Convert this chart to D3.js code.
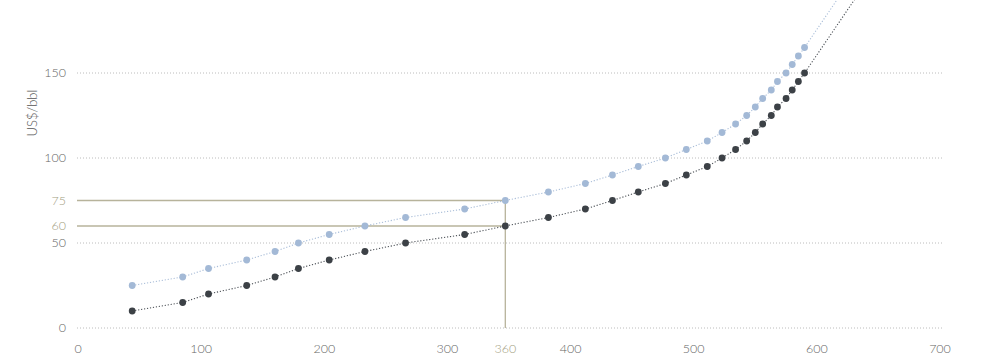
<!DOCTYPE html>
<html>
<head>
<meta charset="utf-8">
<script src="https://cdn.jsdelivr.net/npm/d3@7"></script>
<style>
  html, body { margin: 0; padding: 0; background: #fff; }
  svg { display: block; font-family: Lato, "Open Sans", sans-serif; }
</style>
</head>
<body>
<svg id="chart" width="990" height="360"></svg>
<script>
// Cumulative volume (x) shared by both series
const volume = [44, 85, 106, 137, 160, 179, 204, 233, 266, 314, 347, 382, 412, 434, 455, 477, 494, 511, 523, 534, 543, 550, 556, 563, 568, 575, 580, 585, 590, 637];
// Lower (dark) cost curve, US$/bbl
const darkCost = [10, 15, 20, 25, 30, 35, 40, 45, 50, 55, 60, 65, 70, 75, 80, 85, 90, 95, 100, 105, 110, 115, 120, 125, 130, 135, 140, 145, 150, 200];
// Upper (light) cost curve, US$/bbl
const lightCost = [25, 30, 35, 40, 45, 50, 55, 60, 65, 70, 75, 80, 85, 90, 95, 100, 105, 110, 115, 120, 125, 130, 135, 140, 145, 150, 155, 160, 165, 215];
// Number of plotted markers (last point is off-chart, line only)
const markerCount = 29;

const xTicks = [0, 100, 200, 300, 400, 500, 600, 700];
const yTicks = [0, 50, 100, 150];
const refPrices = [60, 75];
const refIndex = 10;          // data point where the reference lines meet
const refLabel = "360";

const svg = d3.select("#chart");
const x = d3.scaleLinear().domain([0, 700]).range([78, 940]);
const y = d3.scaleLinear().domain([0, 150]).range([328, 73]);

const gridColor = "#bcbcbc";
const refColor = "#b7b39b";
const refText = "#a39e80";
const tickText = "#666666";

// Gridlines
svg.append("g").selectAll("line").data(yTicks).join("line")
  .attr("x1", 77).attr("x2", 942)
  .attr("y1", d => y(d)).attr("y2", d => y(d))
  .attr("stroke", gridColor).attr("stroke-width", 1)
  .attr("stroke-dasharray", "1,2");

// Y tick labels
svg.append("g").selectAll("text").data(yTicks).join("text")
  .attr("x", 66).attr("y", d => y(d)).attr("dy", "0.35em")
  .attr("text-anchor", "end").attr("font-size", 12.5).attr("font-weight", 300)
  .attr("fill", tickText).text(d => d);

// X tick labels
svg.append("g").selectAll("text").data(xTicks).join("text")
  .attr("x", d => x(d)).attr("y", 353)
  .attr("text-anchor", "middle").attr("font-size", 12.5).attr("font-weight", 300)
  .attr("fill", tickText).text(d => d);

// Y axis title
svg.append("text")
  .attr("transform", `translate(37,113) rotate(-90)`)
  .attr("text-anchor", "middle").attr("font-size", 13).attr("font-weight", 300)
  .attr("fill", "#555").text("US$/bbl");

// Reference lines
const refX = x(volume[refIndex]);
svg.append("g").selectAll("line").data(refPrices).join("line")
  .attr("x1", 77).attr("x2", refX)
  .attr("y1", d => y(d)).attr("y2", d => y(d))
  .attr("stroke", refColor).attr("stroke-width", 1.3);
svg.append("line")
  .attr("x1", refX).attr("x2", refX)
  .attr("y1", y(d3.max(refPrices))).attr("y2", y(0))
  .attr("stroke", refColor).attr("stroke-width", 1.3);
svg.append("g").selectAll("text").data(refPrices).join("text")
  .attr("x", 66).attr("y", d => y(d)).attr("dy", "0.35em")
  .attr("text-anchor", "end").attr("font-size", 12.5).attr("font-weight", 300)
  .attr("fill", refText).text(d => d);
svg.append("text")
  .attr("x", refX).attr("y", 353).attr("text-anchor", "middle")
  .attr("font-size", 12.5).attr("font-weight", 300)
  .attr("fill", refText).text(refLabel);

// Series
const series = [
  { values: lightCost, line: "#a9bdd8", dot: "#a3b9d6" },
  { values: darkCost, line: "#4a4f55", dot: "#3c4146" }
];
const line = d3.line().x(d => x(d[0])).y(d => y(d[1]));

series.forEach(s => {
  const pts = volume.map((v, i) => [v, s.values[i]]);
  svg.append("path").datum(pts)
    .attr("d", line).attr("fill", "none")
    .attr("stroke", s.line).attr("stroke-width", 1.1)
    .attr("stroke-dasharray", "1.2,1.8");
  svg.append("g").selectAll("circle").data(pts.slice(0, markerCount)).join("circle")
    .attr("cx", d => x(d[0])).attr("cy", d => y(d[1]))
    .attr("r", 3.4).attr("fill", s.dot);
});
</script>
</body>
</html>
